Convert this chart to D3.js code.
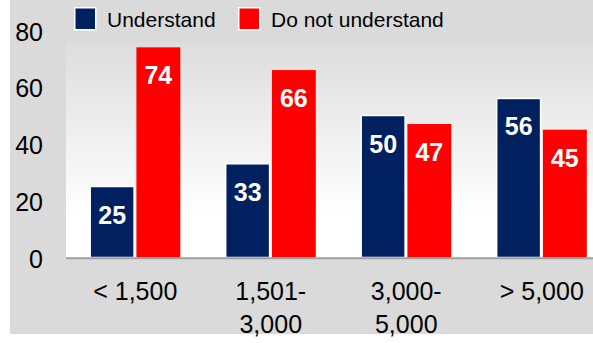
<!DOCTYPE html>
<html>
<head>
<meta charset="utf-8">
<script src="https://cdn.jsdelivr.net/npm/d3@7"></script>
<style>
  html, body { margin: 0; padding: 0; background: #fff; }
  svg { display: block; font-family: Arial, "Liberation Sans", sans-serif; }
</style>
</head>
<body>
<svg id="chart" width="593" height="343"></svg>
<script>
const categories = ["< 1,500", "1,501-\n3,000", "3,000-\n5,000", "> 5,000"];
const understand = [25, 33, 50, 56];
const notUnderstand = [74, 66, 47, 45];
const seriesNames = ["Understand", "Do not understand"];
const seriesColors = ["#002060", "#ff0000"];
const yTicks = [0, 20, 40, 60, 80];

const svg = d3.select("#chart");
const W = 593, H = 343;

// background
svg.append("rect").attr("x", 10).attr("y", 0).attr("width", W - 10).attr("height", 334).attr("fill", "#dadada");

const defs = svg.append("defs");
const grad = defs.append("linearGradient").attr("id", "plotbg").attr("x1", 0).attr("y1", 0).attr("x2", 0).attr("y2", 1);
grad.append("stop").attr("offset", "0%").attr("stop-color", "#dddddd");
grad.append("stop").attr("offset", "80%").attr("stop-color", "#ffffff");
grad.append("stop").attr("offset", "100%").attr("stop-color", "#ffffff");

const plotLeft = 66, plotTop = 42, axisY = 257.5;
const y = d3.scaleLinear().domain([0, 80]).range([axisY, axisY - 80 * 2.84]);

svg.append("rect").attr("x", plotLeft).attr("y", plotTop).attr("width", W - plotLeft).attr("height", axisY - plotTop).attr("fill", "url(#plotbg)");

const x0 = d3.scaleBand().domain(categories).range([67.5, 609.5]).paddingInner(0.335).paddingOuter(0.1675);
const x1 = d3.scaleBand().domain([0, 1]).range([0, x0.bandwidth()]).paddingInner(0.05);

const data = categories.map((c, i) => ({ cat: c, vals: [understand[i], notUnderstand[i]] }));

const groups = svg.append("g").selectAll("g").data(data).join("g")
  .attr("transform", d => `translate(${x0(d.cat)},0)`);

groups.selectAll("rect").data(d => d.vals.map((v, s) => ({ v, s }))).join("rect")
  .attr("x", d => x1(d.s))
  .attr("y", d => y(d.v))
  .attr("width", x1.bandwidth())
  .attr("height", d => y(0) - y(d.v))
  .attr("fill", d => seriesColors[d.s])
  .attr("stroke", d => d.s === 0 ? "#ffffff" : "none")
  .attr("stroke-width", 1.5);

groups.selectAll("text.val").data(d => d.vals.map((v, s) => ({ v, s }))).join("text")
  .attr("class", "val")
  .attr("x", d => x1(d.s) + x1.bandwidth() / 2)
  .attr("y", d => y(d.v) + 37)
  .attr("text-anchor", "middle")
  .attr("fill", "#ffffff")
  .attr("font-weight", "bold")
  .attr("font-size", 25)
  .text(d => d.v);

// x axis line
svg.append("line").attr("x1", plotLeft).attr("x2", W).attr("y1", axisY + 0.8).attr("y2", axisY + 0.8)
  .attr("stroke", "#a0a0a0").attr("stroke-width", 2);

// y axis
const yAxis = d3.axisLeft(y).tickValues(yTicks).tickSize(0).tickPadding(0);
const yg = svg.append("g").attr("transform", "translate(43,1)").call(yAxis);
yg.select(".domain").remove();
yg.selectAll("text").attr("font-size", 25).attr("font-family", "Arial, 'Liberation Sans', sans-serif")
  .attr("fill", "#000").attr("dy", "0.35em").attr("x", 0);

// x axis
const xAxis = d3.axisBottom(x0).tickSize(0).tickFormat("");
const xg = svg.append("g").attr("transform", `translate(0,${axisY})`).call(xAxis);
xg.select(".domain").remove();
xg.selectAll(".tick text").remove();
xg.selectAll(".tick").append("text")
  .attr("text-anchor", "middle")
  .attr("font-size", 25)
  .attr("fill", "#000")
  .selectAll("tspan").data(d => d.split("\n")).join("tspan")
  .attr("x", 0)
  .attr("y", (d, i) => 42.5 + i * 32.5)
  .text(d => d);

// legend
const legX = [74, 238];
const leg = svg.append("g").selectAll("g").data(seriesNames).join("g")
  .attr("transform", (d, i) => `translate(${legX[i]},7)`);
leg.append("rect").attr("x", 0.75).attr("y", 0.75).attr("width", 21).attr("height", 22)
  .attr("fill", (d, i) => seriesColors[i]).attr("stroke", "#fff").attr("stroke-width", 1.5);
leg.append("text").attr("x", 33).attr("y", 20).attr("font-size", 21).attr("fill", "#000").text(d => d);
</script>
</body>
</html>
